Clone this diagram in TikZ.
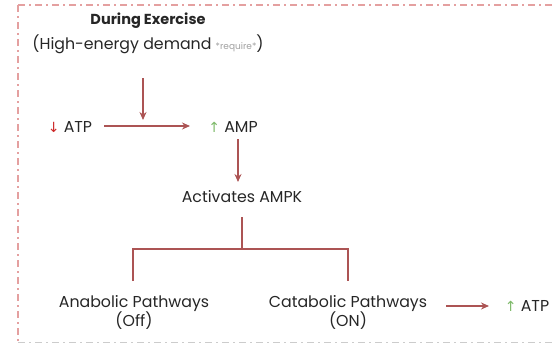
\documentclass[tikz,border=0pt]{standalone}
\usepackage{fontspec}
\setmainfont{Poppins}
\newfontfamily\symfont{DejaVu Sans}
\usetikzlibrary{arrows.meta}
\definecolor{framepink}{RGB}{228,160,160}
\definecolor{linkred}{RGB}{172,84,84}
\definecolor{downred}{RGB}{205,40,40}
\definecolor{upgreen}{RGB}{125,185,105}
\definecolor{notegray}{RGB}{160,160,160}
\tikzset{
  x=1pt, y=-1pt,
  lbl/.style={font=\fontsize{15.8}{19}\selectfont, inner sep=1pt, align=center, text=black!85},
  link/.style={draw=linkred, line width=1.1pt, -{Stealth[length=8pt,width=7pt]}},
  branch/.style={draw=linkred, line width=1.1pt},
  frame/.style={draw=framepink, line width=1.6pt, dash pattern=on 7pt off 4pt on 2pt off 4pt}
}
\newcommand{\dn}{{\symfont\color{downred}\fontsize{14}{16}\selectfont↓}}
\newcommand{\up}{{\symfont\color{upgreen}\fontsize{14}{16}\selectfont↑}}
\begin{document}
\begin{tikzpicture}
\useasboundingbox (0,0) rectangle (552,343);
% dash-dot frame, open to the right
\begin{scope}
\clip (0,0) rectangle (552,343);
\draw[frame] (18,5) -- (570,5);
\draw[frame] (18,5) -- (18,343);
\draw[frame, draw=black!20] (18,342.5) -- (570,342.5);
\end{scope}

\node[lbl, font=\fontsize{14.5}{17}\selectfont\bfseries] (title) at (148,21) {During Exercise};
\node[lbl] (demand) at (148,44) {(High-energy demand {\fontsize{9}{11}\selectfont\color{notegray}*require*})};
\coordinate (demandend) at (143,78);

\node[lbl] (atp) at (70,127) {\dn\ ATP};
\node[lbl] (amp) at (233,127) {\up\ AMP};
\node[lbl] (ampk) at (242,197) {Activates AMPK};
\node[lbl] (ana) at (134,312) {Anabolic Pathways\\(Off)};
\node[lbl] (cata) at (348,312) {Catabolic Pathways\\(ON)};
\node[lbl] (atp2) at (527,306) {\up\ ATP};

\coordinate (split) at (242,249);
\coordinate (anatop) at (133,281);
\coordinate (catatop) at (348,281);

\draw[link] (demandend) -- (143,120);
\draw[link] (104,126) -- (190,126);
\draw[link] (238,139) -- (238,182);
\draw[branch] (242,217) -- (split);
\draw[branch] (anatop) -- (133,249) -- (348,249) -- (catatop);
\draw[link] (446,306) -- (489,306);
\end{tikzpicture}
\end{document}
